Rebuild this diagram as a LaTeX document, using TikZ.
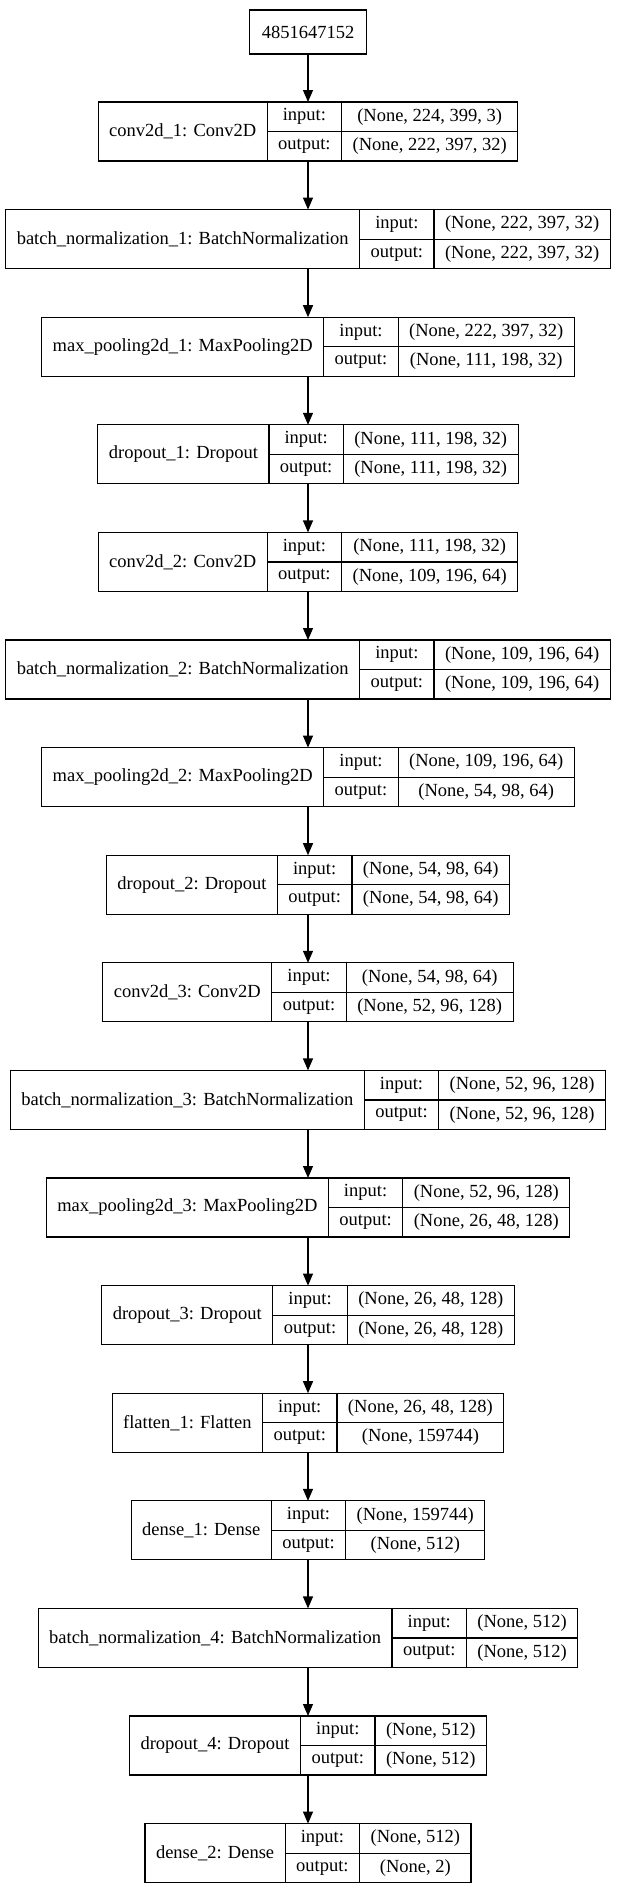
\documentclass[tikz,border=0pt]{standalone}
\usepackage{fontspec}
\setmainfont{Liberation Serif}
\usetikzlibrary{arrows.meta,fit}

\newcommand\lfont{\fontsize{18.5}{22}\selectfont}
% width of a text in the label font
\newcommand\txtw[2]{\setbox0=\hbox{\pgfinterruptpicture\lfont#2\endpgfinterruptpicture}#1=\wd0}
\newdimen\nmw
\newdimen\vwa
\newdimen\vwb
\newdimen\lbw

\begin{document}
\begin{tikzpicture}[x=1pt,y=1pt,line width=1.2pt,
    every node/.style={font=\lfont},
    cell/.style={draw, outer sep=0pt, inner xsep=11pt, inner ysep=0pt, minimum height=29.5pt},
    arr/.style={-{Triangle[length=12pt,width=10pt]}}]
    \useasboundingbox (0,0) rectangle (616,-1896);

    % Input node
    \node[draw, outer sep=0pt, inner xsep=12pt, minimum height=44pt] (lay0) at (308,-32) {4851647152};

    % Layers: name | input:/output: | shapes
    \foreach \nm/\vin/\vout [count=\i] in {
        {conv2d\_1: Conv2D}/{(None, 224, 399, 3)}/{(None, 222, 397, 32)},
        {batch\_normalization\_1: BatchNormalization}/{(None, 222, 397, 32)}/{(None, 222, 397, 32)},
        {max\_pooling2d\_1: MaxPooling2D}/{(None, 222, 397, 32)}/{(None, 111, 198, 32)},
        {dropout\_1: Dropout}/{(None, 111, 198, 32)}/{(None, 111, 198, 32)},
        {conv2d\_2: Conv2D}/{(None, 111, 198, 32)}/{(None, 109, 196, 64)},
        {batch\_normalization\_2: BatchNormalization}/{(None, 109, 196, 64)}/{(None, 109, 196, 64)},
        {max\_pooling2d\_2: MaxPooling2D}/{(None, 109, 196, 64)}/{(None, 54, 98, 64)},
        {dropout\_2: Dropout}/{(None, 54, 98, 64)}/{(None, 54, 98, 64)},
        {conv2d\_3: Conv2D}/{(None, 54, 98, 64)}/{(None, 52, 96, 128)},
        {batch\_normalization\_3: BatchNormalization}/{(None, 52, 96, 128)}/{(None, 52, 96, 128)},
        {max\_pooling2d\_3: MaxPooling2D}/{(None, 52, 96, 128)}/{(None, 26, 48, 128)},
        {dropout\_3: Dropout}/{(None, 26, 48, 128)}/{(None, 26, 48, 128)},
        {flatten\_1: Flatten}/{(None, 26, 48, 128)}/{(None, 159744)},
        {dense\_1: Dense}/{(None, 159744)}/{(None, 512)},
        {batch\_normalization\_4: BatchNormalization}/{(None, 512)}/{(None, 512)},
        {dropout\_4: Dropout}/{(None, 512)}/{(None, 512)},
        {dense\_2: Dense}/{(None, 512)}/{(None, 2)}} {
        \txtw\nmw{\nm}
        \txtw\vwa{\vin}
        \txtw\vwb{\vout}
        \txtw\lbw{output:}
        \pgfmathsetmacro\wn{\the\nmw+22}
        \pgfmathsetmacro\wl{\the\lbw+22}
        \pgfmathsetmacro\wv{max(\the\vwa,\the\vwb)+22}
        \pgfmathsetmacro\xl{308-(\wn+\wl+\wv)/2}
        \pgfmathsetmacro\yt{-102-(\i-1)*107.6}
        \pgfmathtruncatemacro\j{\i-1}
        \node[cell, anchor=north west, minimum width=\wn, minimum height=59pt] (nm\i) at (\xl,\yt) {\nm};
        \node[cell, anchor=north west, minimum width=\wl] (li\i) at (nm\i.north east) {input:};
        \node[cell, anchor=north west, minimum width=\wl] (lo\i) at (li\i.south west) {output:};
        \node[cell, anchor=north west, minimum width=\wv] (vi\i) at (li\i.north east) {\vin};
        \node[cell, anchor=north west, minimum width=\wv] (vo\i) at (vi\i.south west) {\vout};
        \node[fit=(nm\i)(vo\i), inner sep=0pt, outer sep=0pt] (lay\i) {};
        \draw[arr] (lay\j) -- (lay\i);
    }
\end{tikzpicture}
\end{document}
